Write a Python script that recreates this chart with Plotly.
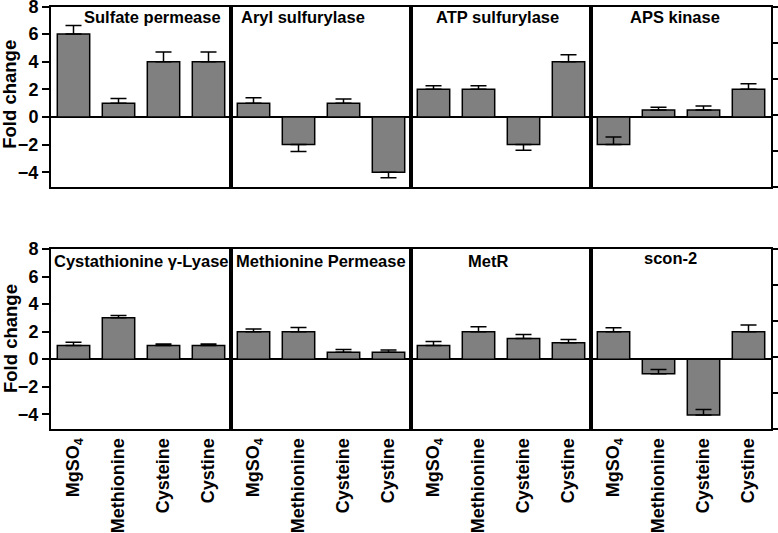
import plotly.graph_objects as go

W, H = 778, 533

genes = ["Sulfate permease", "Aryl sulfurylase", "ATP sulfurylase", "APS kinase",
         "Cystathionine γ-Lyase", "Methionine Permease", "MetR", "scon-2"]
conditions = ["MgSO<sub>4</sub>", "Methionine", "Cysteine", "Cystine"]

sulfate_permease = [6.0, 1.0, 4.0, 4.0]
aryl_sulfurylase = [1.0, -2.0, 1.0, -4.0]
atp_sulfurylase = [2.0, 2.0, -2.0, 4.0]
aps_kinase = [-2.0, 0.5, 0.5, 2.0]
cystathionine_lyase = [1.0, 3.0, 1.0, 1.0]
methionine_permease = [2.0, 2.0, 0.5, 0.5]
metr = [1.0, 2.0, 1.5, 1.2]
scon2 = [2.0, -1.05, -4.05, 2.0]

err_up = [
    [0.63, 0.33, 0.7, 0.7],
    [0.4, 0.0, 0.3, 0.0],
    [0.27, 0.27, 0.0, 0.5],
    [0.55, 0.2, 0.3, 0.4],
    [0.22, 0.17, 0.1, 0.1],
    [0.2, 0.3, 0.2, 0.17],
    [0.28, 0.36, 0.3, 0.22],
    [0.29, 0.3, 0.39, 0.48],
]
err_down = [
    [0, 0, 0, 0],
    [0, 0.5, 0, 0.4],
    [0, 0, 0.4, 0],
    [0, 0, 0, 0],
    [0, 0, 0, 0],
    [0, 0, 0, 0],
    [0, 0, 0, 0],
    [0, 0, 0, 0],
]
values = [sulfate_permease, aryl_sulfurylase, atp_sulfurylase, aps_kinase,
          cystathionine_lyase, methionine_permease, metr, scon2]

y_ticks = [-4, -2, 0, 2, 4, 6, 8]
y_range = [-5.07, 8.0]

# title placement within each panel (domain fraction)
title_x = [0.564, 0.402, 0.483, 0.469, 0.502, 0.499, 0.425, 0.439]
title_y = [0.942, 0.942, 0.942, 0.942, 0.933, 0.933, 0.933, 0.95]

FONT = "Liberation Sans, Arial, sans-serif"


def ax(letter, n):
    return letter if n == 1 else f"{letter}{n}"


fig = go.Figure()
layout = dict(
    width=W, height=H, margin=dict(l=0, r=0, t=0, b=0, autoexpand=False),
    paper_bgcolor="white", plot_bgcolor="white", showlegend=False,
    font=dict(family=FONT, color="black"),
    bargap=0.28,
)

xedges = [51, 231, 411, 591, 771]
rows_px = [(6.5, 187), (249, 429)]
annotations = []
for i in range(8):
    r, c = divmod(i, 4)
    xa = ax("x", i + 1)
    ya = ax("y", i + 1)
    fig.add_trace(go.Bar(
        x=list(range(4)), y=values[i], xaxis=xa, yaxis=ya,
        marker=dict(color="#808080", line=dict(color="black", width=1.5)),
        width=0.72,
        error_y=dict(type="data", symmetric=False, array=err_up[i], arrayminus=err_down[i],
                     color="black", thickness=1.5, width=8),
    ))
    xd = [xedges[c] / W, xedges[c + 1] / W]
    top, bot = rows_px[r]
    yd = [1 - bot / H, 1 - top / H]
    layout[f"xaxis{i+1}"] = dict(
        domain=xd, anchor=ya, range=[-0.5, 3.5], automargin=False,
        ticklabeloverflow="allow",
        tickvals=list(range(4)), ticktext=conditions,
        showticklabels=(r == 1), tickangle=-90, ticks="",
        tickfont=dict(family=FONT, size=18, weight="bold", color="black"),
        showline=True, mirror=True, linecolor="black", linewidth=2,
        showgrid=False, zeroline=False, fixedrange=True,
    )
    left = (c == 0)
    layout[f"yaxis{i+1}"] = dict(
        domain=yd, anchor=xa, range=y_range, automargin=False,
        ticklabeloverflow="allow",
        tickvals=y_ticks, showticklabels=left,
        ticks="outside" if left else "", ticklen=7, tickwidth=2, tickcolor="black",
        tickfont=dict(family=FONT, size=18, weight="bold", color="black"),
        showline=True, mirror=True, linecolor="black", linewidth=2,
        showgrid=False, zeroline=True, zerolinecolor="black", zerolinewidth=2,
    )
    annotations.append(dict(
        text=f"<b>{genes[i]}</b>", xref=f"{xa} domain", yref=f"{ya} domain",
        x=title_x[i], y=title_y[i], xanchor="center", yanchor="middle",
        showarrow=False, font=dict(family=FONT, size=16.5, color="black"),
    ))

# right-side secondary tick axes
for base, newy in [(4, 9), (8, 10)]:
    fig.add_trace(go.Scatter(x=[], y=[], xaxis=ax("x", base), yaxis=ax("y", newy), mode="markers"))
    layout[f"yaxis{newy}"] = dict(
        overlaying=ax("y", base), anchor=ax("x", base), side="right", range=[0, 5],
        automargin=False,
        dtick=1, tick0=0, ticks="outside", ticklen=7, tickwidth=2, tickcolor="black",
        showticklabels=False, showgrid=False, zeroline=False, showline=False,
    )

for r in range(2):
    top, bot = rows_px[r]
    annotations.append(dict(
        text="<b>Fold change</b>", xref="paper", yref="paper",
        x=10 / W, y=1 - ((top + bot) / 2 + (-2 if r == 0 else 0)) / H,
        xanchor="center", yanchor="middle", textangle=-90, showarrow=False,
        font=dict(family=FONT, size=18.5, color="black"),
    ))

layout["annotations"] = annotations
fig.update_layout(**layout)
fig.write_html("out.html", config={"displayModeBar": False},
               post_script="document.body.style.margin='0px';document.body.style.overflow='hidden';")
